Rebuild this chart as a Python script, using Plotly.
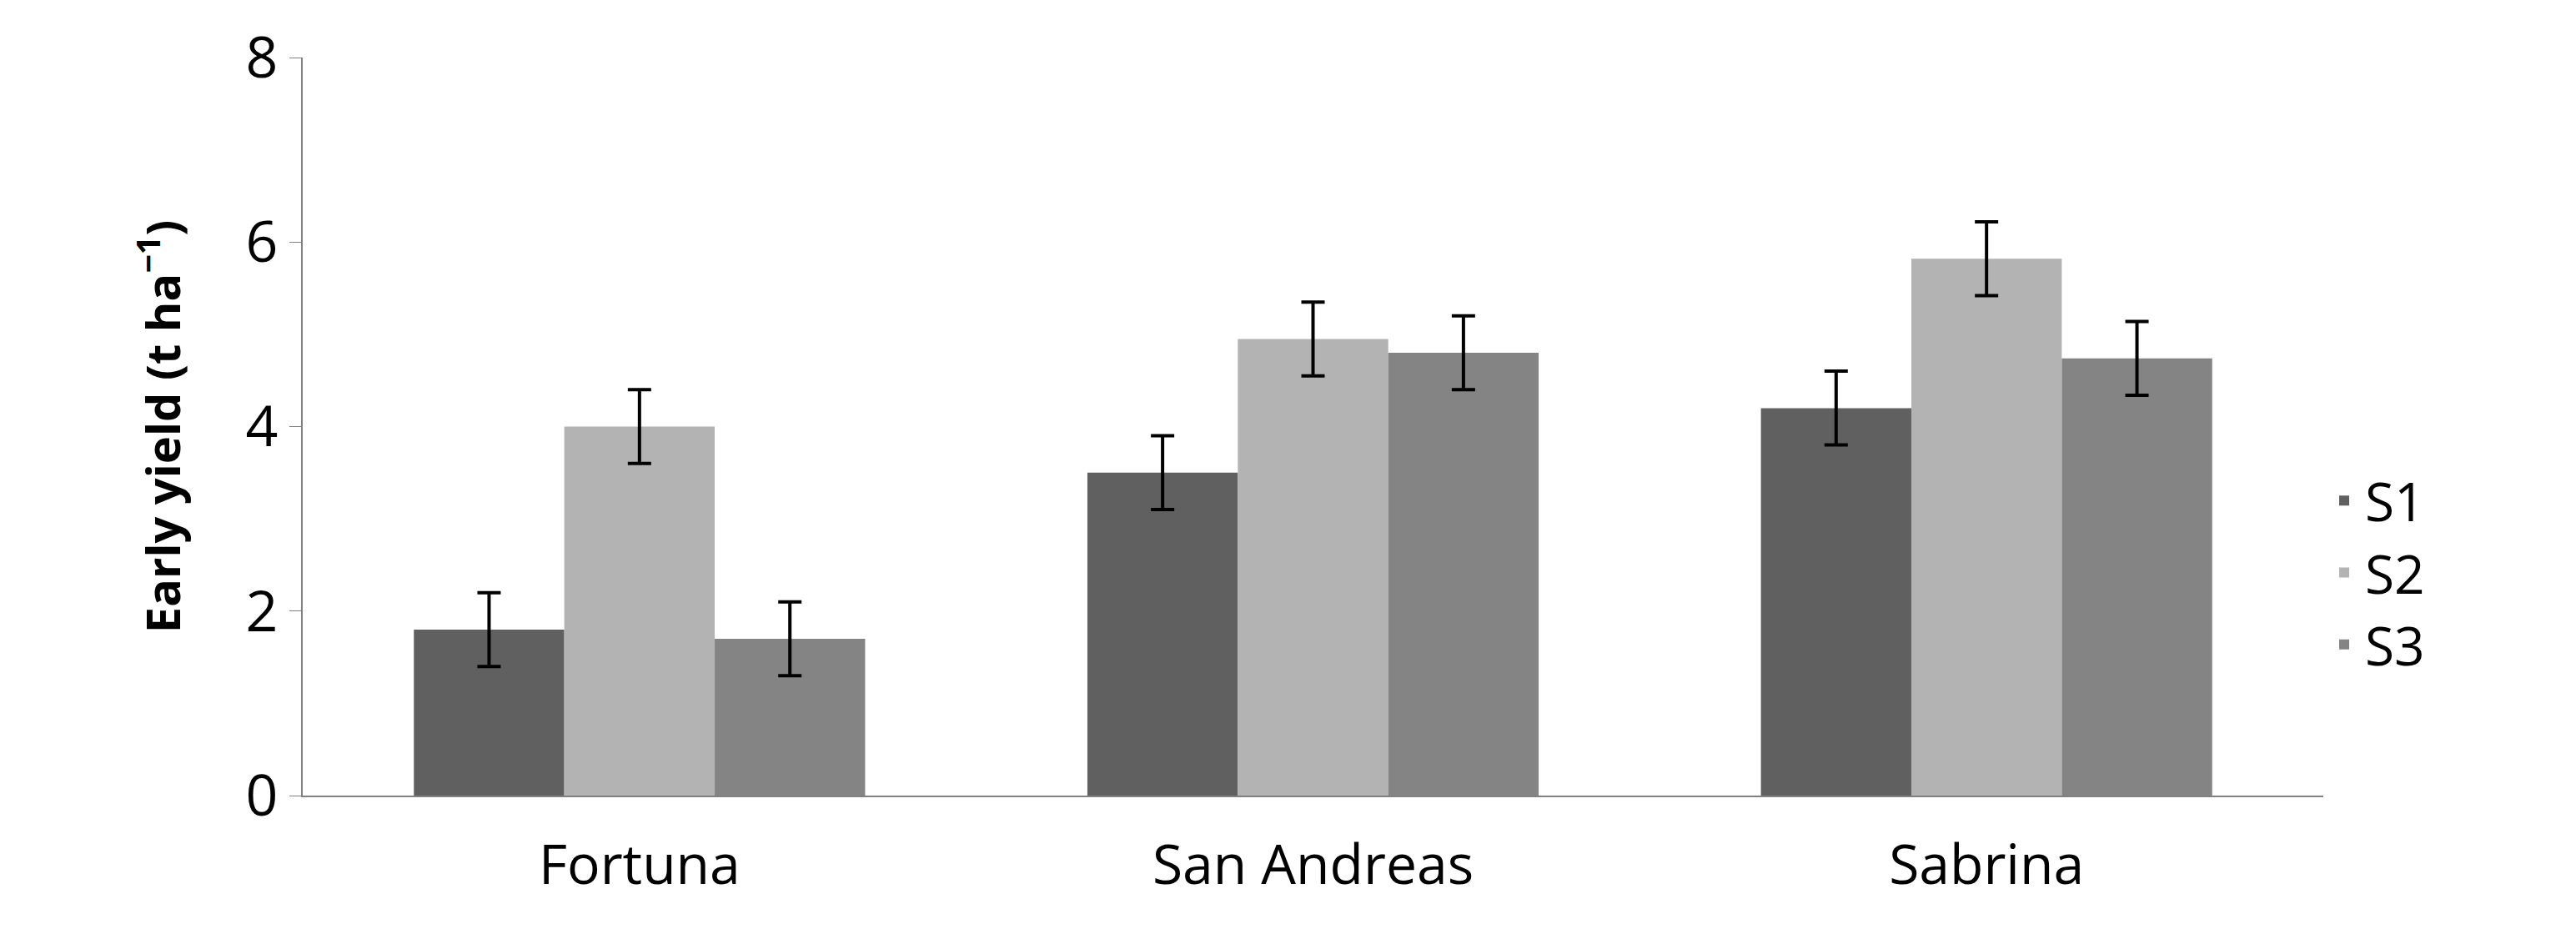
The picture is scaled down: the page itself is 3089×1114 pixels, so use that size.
import plotly.graph_objects as go

categories = ["Fortuna", "San Andreas", "Sabrina"]
series_names = ["S1", "S2", "S3"]
s1 = [1.8, 3.5, 4.2]
s2 = [4.0, 4.95, 5.82]
s3 = [1.7, 4.8, 4.74]
err1 = [0.4, 0.4, 0.4]
err2 = [0.4, 0.4, 0.4]
err3 = [0.4, 0.4, 0.4]
colors = ["#606060", "#b3b3b3", "#848484"]

fig = go.Figure()
for name, vals, err, c in zip(series_names, [s1, s2, s3], [err1, err2, err3], colors):
    fig.add_trace(go.Bar(name=name, x=categories, y=vals, marker_color=c, marker_line_width=0,
                         error_y=dict(type="data", array=err, color="black", thickness=4, width=14)))

font = "Open Sans"
fig.update_layout(
    width=3089, height=1114, barmode="group", bargap=0.33, bargroupgap=0,
    plot_bgcolor="white", paper_bgcolor="white",
    margin=dict(l=355, r=311, t=55, b=168),
    font=dict(family=font, size=62, color="black"),
    legend=dict(x=1.0, y=0.15, xanchor="left", yanchor="bottom", font=dict(size=64),
                itemwidth=40, tracegroupgap=20),
    yaxis=dict(range=[0, 8], dtick=2, showgrid=False, showline=True, linecolor="#808080", linewidth=2,
               ticks="outside", ticklen=14, tickcolor="#808080", tickfont=dict(size=68),
               title=dict(text="<b>Early yield (t ha<sup>−1</sup>)</b>", font=dict(size=56), standoff=60)),
    xaxis=dict(showline=True, linecolor="#808080", linewidth=2, ticks="", tickfont=dict(size=66),
               ticklabelstandoff=25),
)
fig.write_html("out.html")
